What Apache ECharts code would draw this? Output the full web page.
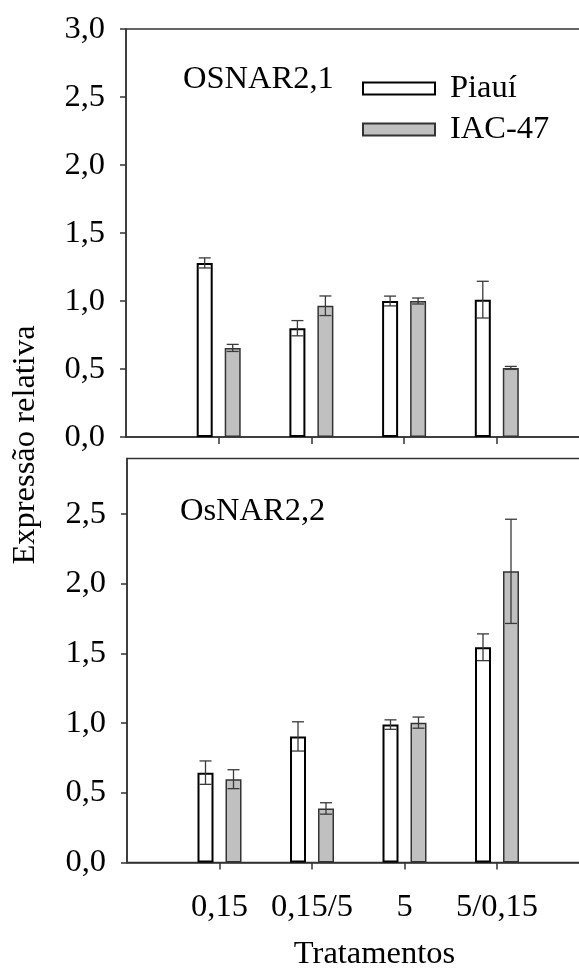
<!DOCTYPE html>
<html>
<head>
<meta charset="utf-8">
<script src="https://cdn.jsdelivr.net/npm/echarts@6/dist/echarts.min.js"></script>
<style>
  html, body { margin: 0; padding: 0; background: #fff; }
  #chart { width: 579px; height: 969px; }
</style>
</head>
<body>
<div id="chart"></div>
<script>
// Treatments on the x axis
const treatments = ['0,15', '0,15/5', '5', '5/0,15'];

// OSNAR2,1 – relative expression (mean and error)
const nar21Piaui    = [1.28, 0.80, 1.00, 1.01];
const nar21PiauiErr = [0.037, 0.056, 0.036, 0.135];
const nar21Iac      = [0.655, 0.965, 1.00, 0.508];
const nar21IacErr   = [0.026, 0.072, 0.022, 0.011];

// OsNAR2,2 – relative expression (mean and error)
const nar22Piaui    = [0.645, 0.905, 0.99, 1.545];
const nar22PiauiErr = [0.084, 0.105, 0.034, 0.096];
const nar22Iac      = [0.598, 0.388, 1.004, 2.09];
const nar22IacErr   = [0.068, 0.041, 0.04, 0.374];

// y tick values of each panel
const yTicksTop    = [0, 0.5, 1.0, 1.5, 2.0, 2.5, 3.0];
const yTicksBottom = [0, 0.5, 1.0, 1.5, 2.0, 2.5];

const FONT = 'Liberation Serif';
const FS = 32.5;
const AXIS_COLOR = '#333';
const BAR_W = 16;
const BAR_GAP = 12;
const CAP = 12;

// one empty slot on each side of the treatments
const axisCats = [''].concat(treatments, ['']);
const pad = arr => [null].concat(arr, [null]);
const errData = (vals, errs) => vals.map((v, i) => [i + 1, v - errs[i], v + errs[i]]);
const fmt = v => v.toFixed(1).replace('.', ',');

function errRender(offset) {
  return function (params, api) {
    const x = api.value(0);
    const lo = api.coord([x, api.value(1)]);
    const hi = api.coord([x, api.value(2)]);
    const cx = lo[0] + offset;
    const st = { stroke: '#3a3a3a', lineWidth: 1.3 };
    return {
      type: 'group',
      children: [
        { type: 'line', shape: { x1: cx, y1: hi[1], x2: cx, y2: lo[1] }, style: st },
        { type: 'line', shape: { x1: cx - CAP / 2, y1: hi[1], x2: cx + CAP / 2, y2: hi[1] }, style: st },
        { type: 'line', shape: { x1: cx - CAP / 2, y1: lo[1], x2: cx + CAP / 2, y2: lo[1] }, style: st }
      ]
    };
  };
}

const showInner = idx => idx >= 1 && idx <= treatments.length;

function xAxisFor(gridIndex, withLabels) {
  return {
    type: 'category',
    gridIndex: gridIndex,
    data: axisCats,
    boundaryGap: false,
    axisLine: { lineStyle: { color: AXIS_COLOR, width: 1.5 } },
    axisTick: { show: true, interval: showInner, length: 7, lineStyle: { color: AXIS_COLOR, width: 1.5 } },
    axisLabel: {
      show: withLabels, interval: showInner, margin: 28,
      fontFamily: FONT, fontSize: FS, color: '#000'
    },
    splitLine: { show: false }
  };
}

function yAxisFor(gridIndex, max, ticks) {
  return {
    type: 'value',
    gridIndex: gridIndex,
    min: 0,
    max: max,
    axisLine: { show: true, lineStyle: { color: AXIS_COLOR, width: 1.5 } },
    axisTick: { show: true, length: 6, customValues: ticks, lineStyle: { color: AXIS_COLOR, width: 1.5 } },
    axisLabel: {
      customValues: ticks, margin: 21, formatter: fmt,
      fontFamily: FONT, fontSize: FS, color: '#000'
    },
    splitLine: { show: false }
  };
}

const piauiStyle = { color: '#ffffff', borderColor: '#000', borderWidth: 2 };
const iacStyle = { color: '#c0c0c0', borderColor: '#333', borderWidth: 1.5 };
const halfStep = (BAR_W + BAR_GAP) / 2;

function panelSeries(idx, piaui, piauiErr, iac, iacErr) {
  return [
    { name: 'Piauí', type: 'bar', xAxisIndex: idx, yAxisIndex: idx, data: pad(piaui),
      barWidth: BAR_W, barGap: (BAR_GAP / BAR_W * 100) + '%', itemStyle: piauiStyle, silent: true },
    { name: 'IAC-47', type: 'bar', xAxisIndex: idx, yAxisIndex: idx, data: pad(iac),
      barWidth: BAR_W, itemStyle: iacStyle, silent: true },
    { type: 'custom', xAxisIndex: idx, yAxisIndex: idx, z: 5, silent: true,
      data: errData(piaui, piauiErr), encode: { x: 0, y: [1, 2] }, renderItem: errRender(-halfStep) },
    { type: 'custom', xAxisIndex: idx, yAxisIndex: idx, z: 5, silent: true,
      data: errData(iac, iacErr), encode: { x: 0, y: [1, 2] }, renderItem: errRender(halfStep) }
  ];
}

const chart = echarts.init(document.getElementById('chart'), null, { renderer: 'canvas' });

chart.setOption({
  animation: false,
  backgroundColor: '#fff',
  grid: [
    { left: 126, right: -10.5, top: 29, height: 408, outerBoundsMode: 'none',
      show: true, borderColor: AXIS_COLOR, borderWidth: 1.5, backgroundColor: 'transparent' },
    { left: 127, right: -10.5, top: 458.5, height: 404, outerBoundsMode: 'none',
      show: true, borderColor: AXIS_COLOR, borderWidth: 1.5, backgroundColor: 'transparent' }
  ],
  xAxis: [xAxisFor(0, false), xAxisFor(1, true)],
  yAxis: [yAxisFor(0, 3.0, yTicksTop), yAxisFor(1, 2.9, yTicksBottom)],
  legend: {
    data: ['Piauí', 'IAC-47'],
    orient: 'vertical',
    left: 357,
    top: 67,
    icon: 'rect',
    itemWidth: 72,
    itemHeight: 12,
    itemGap: 8,
    selectedMode: false,
    textStyle: { fontFamily: FONT, fontSize: FS, color: '#000', padding: [0, 0, 0, 10] }
  },
  graphic: [
    { type: 'text', left: 183, top: 63,
      style: { text: 'OSNAR2,1', font: FS + 'px "' + FONT + '"', fill: '#000' } },
    { type: 'text', left: 180, top: 495,
      style: { text: 'OsNAR2,2', font: FS + 'px "' + FONT + '"', fill: '#000' } },
    { type: 'text', x: 374.5, y: 971,
      style: { text: 'Tratamentos', font: FS + 'px "' + FONT + '"', fill: '#000',
               textAlign: 'center', textVerticalAlign: 'bottom' } },
    { type: 'text', x: 25, y: 445, rotation: Math.PI / 2,
      style: { text: 'Expressão relativa', font: FS + 'px "' + FONT + '"', fill: '#000',
               textAlign: 'center', textVerticalAlign: 'middle' } }
  ],
  series: panelSeries(0, nar21Piaui, nar21PiauiErr, nar21Iac, nar21IacErr)
    .concat(panelSeries(1, nar22Piaui, nar22PiauiErr, nar22Iac, nar22IacErr))
});
</script>
</body>
</html>
